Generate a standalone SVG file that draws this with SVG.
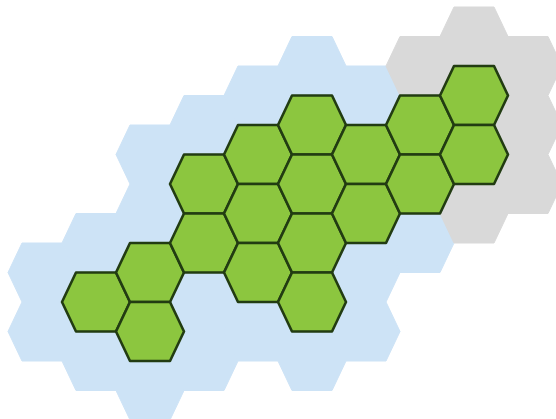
<svg xmlns="http://www.w3.org/2000/svg" xmlns:xlink="http://www.w3.org/1999/xlink" width="556" height="419" viewBox="0 0 556 419">
<style>
.bg{fill:#cde3f6;stroke:#cde3f6;stroke-width:1}
.gr{fill:#d9d9d9;stroke:#d9d9d9;stroke-width:1}
.cell{fill:#8cc63f;stroke:#223c12;stroke-width:2.6;stroke-linejoin:round}
</style>
<defs>
<polygon id="h" points="-34,0 -20,-29.5 20,-29.5 34,0 20,29.5 -20,29.5"/>
</defs>
<rect width="556" height="419" fill="#ffffff"/>
<g id="background-blue" class="bg">
<use xlink:href="#h" x="42" y="272.5"/><use xlink:href="#h" x="42" y="331.5"/>
<use xlink:href="#h" x="96" y="243"/><use xlink:href="#h" x="96" y="302"/><use xlink:href="#h" x="96" y="361"/>
<use xlink:href="#h" x="150" y="154.5"/><use xlink:href="#h" x="150" y="213.5"/><use xlink:href="#h" x="150" y="272.5"/><use xlink:href="#h" x="150" y="331.5"/><use xlink:href="#h" x="150" y="390.5"/>
<use xlink:href="#h" x="204" y="125"/><use xlink:href="#h" x="204" y="184"/><use xlink:href="#h" x="204" y="243"/><use xlink:href="#h" x="204" y="302"/><use xlink:href="#h" x="204" y="361"/>
<use xlink:href="#h" x="258" y="95.5"/><use xlink:href="#h" x="258" y="154.5"/><use xlink:href="#h" x="258" y="213.5"/><use xlink:href="#h" x="258" y="272.5"/><use xlink:href="#h" x="258" y="331.5"/>
<use xlink:href="#h" x="312" y="66"/><use xlink:href="#h" x="312" y="125"/><use xlink:href="#h" x="312" y="184"/><use xlink:href="#h" x="312" y="243"/><use xlink:href="#h" x="312" y="302"/><use xlink:href="#h" x="312" y="361"/>
<use xlink:href="#h" x="366" y="95.5"/><use xlink:href="#h" x="366" y="154.5"/><use xlink:href="#h" x="366" y="213.5"/><use xlink:href="#h" x="366" y="272.5"/><use xlink:href="#h" x="366" y="331.5"/>
<use xlink:href="#h" x="420" y="125"/><use xlink:href="#h" x="420" y="184"/><use xlink:href="#h" x="420" y="243"/>
</g>
<g id="background-gray" class="gr">
<use xlink:href="#h" x="420" y="66"/>
<use xlink:href="#h" x="474" y="36.5"/><use xlink:href="#h" x="474" y="95.5"/><use xlink:href="#h" x="474" y="154.5"/><use xlink:href="#h" x="474" y="213.5"/>
<use xlink:href="#h" x="528" y="66"/><use xlink:href="#h" x="528" y="125"/><use xlink:href="#h" x="528" y="184"/>
</g>
<g id="cells" class="cell">
<g id="cell-0-0"><use xlink:href="#h" x="96" y="302"/></g>
<g id="cell-1-0"><use xlink:href="#h" x="150" y="272.5"/></g>
<g id="cell-1-1"><use xlink:href="#h" x="150" y="331.5"/></g>
<g id="cell-2-0"><use xlink:href="#h" x="204" y="184"/></g>
<g id="cell-2-1"><use xlink:href="#h" x="204" y="243"/></g>
<g id="cell-3-0"><use xlink:href="#h" x="258" y="154.5"/></g>
<g id="cell-3-1"><use xlink:href="#h" x="258" y="213.5"/></g>
<g id="cell-3-2"><use xlink:href="#h" x="258" y="272.5"/></g>
<g id="cell-4-0"><use xlink:href="#h" x="312" y="125"/></g>
<g id="cell-4-1"><use xlink:href="#h" x="312" y="184"/></g>
<g id="cell-4-2"><use xlink:href="#h" x="312" y="243"/></g>
<g id="cell-4-3"><use xlink:href="#h" x="312" y="302"/></g>
<g id="cell-5-0"><use xlink:href="#h" x="366" y="154.5"/></g>
<g id="cell-5-1"><use xlink:href="#h" x="366" y="213.5"/></g>
<g id="cell-6-0"><use xlink:href="#h" x="420" y="125"/></g>
<g id="cell-6-1"><use xlink:href="#h" x="420" y="184"/></g>
<g id="cell-7-0"><use xlink:href="#h" x="474" y="95.5"/></g>
<g id="cell-7-1"><use xlink:href="#h" x="474" y="154.5"/></g>
</g>
<g id="connectors"/>
</svg>
